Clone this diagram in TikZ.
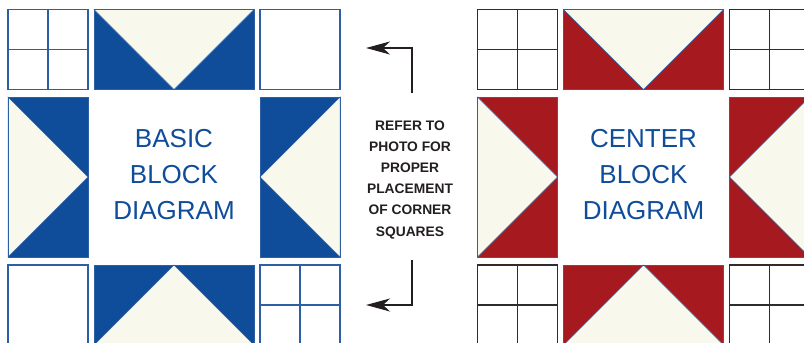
\documentclass[tikz,border=0pt]{standalone}
\usepackage{fontspec}
\setmainfont{Liberation Sans}
\usetikzlibrary{arrows.meta}
\definecolor{qblue}{RGB}{15,76,154}
\definecolor{qred}{RGB}{166,25,30}
\definecolor{qcream}{RGB}{248,248,236}
\definecolor{qedge}{RGB}{45,95,165}
\definecolor{qgray}{RGB}{45,45,45}
\definecolor{qink}{RGB}{35,31,32}
\newcommand\qpieces[2]{%
  \begin{scope}[xshift=#1pt]
    % top
    \fill[#2] (86,9.5) rectangle (246,89.5);
    \filldraw[qcream, draw=qedge, line width=0.5pt] (86,9.5) -- (246,9.5) -- (166,89.5) -- cycle;
    \draw[qedge, line width=0.8pt] (86,9.5) rectangle (246,89.5);
    % bottom
    \fill[#2] (86,265) rectangle (246,345);
    \filldraw[qcream, draw=qedge, line width=0.5pt] (86,345) -- (246,345) -- (166,265) -- cycle;
    \draw[qedge, line width=0.8pt] (86,265) rectangle (246,345);
    % left
    \fill[#2] (0,97) rectangle (80,257);
    \filldraw[qcream, draw=qedge, line width=0.5pt] (0,97) -- (0,257) -- (80,177) -- cycle;
    \draw[qedge, line width=0.8pt] (0,97) rectangle (80,257);
    % right
    \fill[#2] (252,97) rectangle (332,257);
    \filldraw[qcream, draw=qedge, line width=0.5pt] (332,97) -- (332,257) -- (252,177) -- cycle;
    \draw[qedge, line width=0.8pt] (252,97) rectangle (332,257);
  \end{scope}}
\newcommand\qsquare[4]{% x, y, colour, cross(1/0)
  \draw[#3, line width=1.1pt] (#1,#2) rectangle ++(80,80);
  \ifnum#4=1
    \draw[#3, line width=1.1pt] (#1+40,#2) -- ++(0,80);
    \draw[#3, line width=1.1pt] (#1,#2+40) -- ++(80,0);
  \fi}
\begin{document}
\begin{tikzpicture}[x=1pt,y=-1pt,
  bigtxt/.style={text=qblue, font=\fontsize{26}{30}\selectfont, inner sep=0pt, anchor=base},
  smalltxt/.style={text=qink, font=\fontsize{13.8}{16}\selectfont\bfseries, inner sep=0pt, anchor=base},
  arrowline/.style={draw=qink, line width=1.3pt, -{Stealth[length=24pt,width=13pt,inset=7pt]}}]
\useasboundingbox (0,0) rectangle (804,343);
\clip (0,0) rectangle (804,343);
\fill[white] (0,0) rectangle (804,343);
% left block
\qpieces{8}{qblue}
\qsquare{8}{9.5}{qedge}{1}
\qsquare{260}{9.5}{qedge}{0}
\qsquare{8}{265}{qedge}{0}
\qsquare{260}{265}{qedge}{1}
\node[bigtxt] (b1) at (174,147) {BASIC};
\node[bigtxt] (b2) at (174,183) {BLOCK};
\node[bigtxt] (b3) at (174,219) {DIAGRAM};
% right block
\qpieces{477.5}{qred}
\qsquare{477.5}{9.5}{qgray}{1}
\qsquare{729.5}{9.5}{qgray}{1}
\qsquare{477.5}{265}{qgray}{1}
\qsquare{729.5}{265}{qgray}{1}
\node[bigtxt] (c1) at (643.5,147) {CENTER};
\node[bigtxt] (c2) at (643.5,183) {BLOCK};
\node[bigtxt] (c3) at (643.5,219) {DIAGRAM};
% middle note
\node[smalltxt] (n1) at (410,130) {REFER TO};
\node[smalltxt] (n2) at (410,151.2) {PHOTO FOR};
\node[smalltxt] (n3) at (410,172.4) {PROPER};
\node[smalltxt] (n4) at (410,193.6) {PLACEMENT};
\node[smalltxt] (n5) at (410,214.8) {OF CORNER};
\node[smalltxt] (n6) at (410,236) {SQUARES};
\coordinate (t0) at (412,93);
\coordinate (t1) at (366,48);
\coordinate (u0) at (412,260);
\coordinate (u1) at (366,305);
\draw[arrowline] (t0) |- (t1);
\draw[arrowline] (u0) |- (u1);
\end{tikzpicture}
\end{document}
